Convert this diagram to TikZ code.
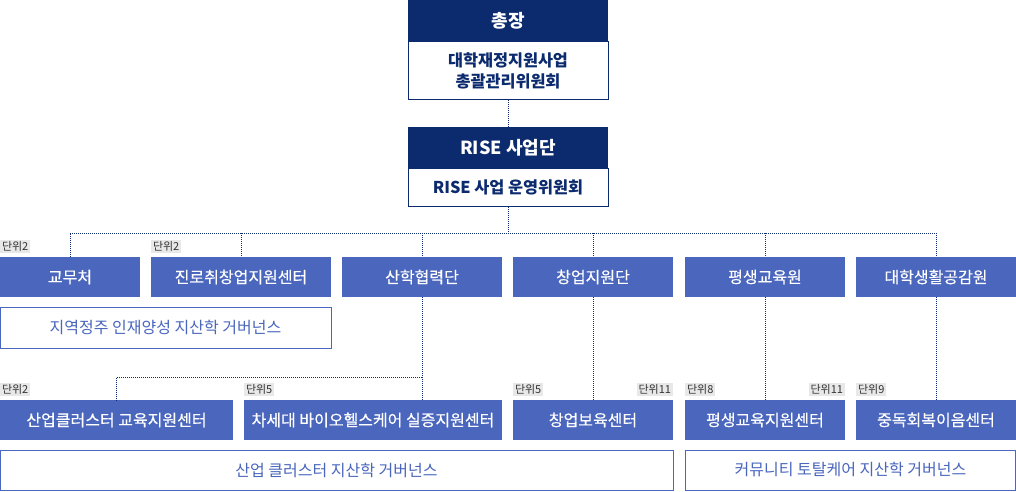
\documentclass[tikz,border=0pt]{standalone}
\usepackage{fontspec}
\setmainfont{Noto Sans CJK KR}
\newfontfamily\krmed{Noto Sans CJK KR}[FakeBold=0.4]
\usepackage{tikz}
\usetikzlibrary{positioning}
\definecolor{navy}{HTML}{0C2A6E}
\definecolor{unitblue}{HTML}{4A66BD}
\definecolor{taggray}{HTML}{E8E8E8}
\definecolor{tagtext}{HTML}{333333}

\tikzset{
	head/.style={fill=navy, text=white, font=\fontsize{18}{21}\selectfont\bfseries, minimum width=200pt, minimum height=41pt, inner sep=0pt},
	board/.style={draw=navy, line width=1pt, fill=white, text=navy, font=\fontsize{16.3}{21}\selectfont\bfseries, minimum width=200pt, inner sep=0pt, align=center},
	unit/.style={fill=unitblue, text=white, font=\fontsize{16}{19}\krmed, minimum height=40pt, inner sep=0pt},
	gov/.style={draw=unitblue, line width=1pt, fill=white, text=unitblue, font=\fontsize{16}{19}\selectfont, minimum height=40pt, inner sep=0pt},
	tag/.style={fill=taggray, text=tagtext, font=\fontsize{11}{12}\selectfont, minimum height=13pt, inner xsep=2pt, inner ysep=0pt, yshift=4pt},
	link/.style={draw=navy, line width=1pt, dash pattern=on 1pt off 1pt}
}

\begin{document}
\begin{tikzpicture}[x=1pt, y=-1pt]
				\useasboundingbox (0,0) rectangle (1016,491);
				% top of the chart
				\node[head] (chongjang) at (508,20.5) {총장};
				\node[board, minimum height=58pt, below=0pt of chongjang] (chongcom) {대학재정지원사업\\총괄관리위원회};
				\node[head] (rise) at (508,147.5) {RISE 사업단};
				\node[board, minimum height=38pt, below=0pt of rise] (risecom) {RISE 사업 운영위원회};
				\draw[link] (chongcom.south) -- (rise.north);

				% first row
				\node[unit, minimum width=140pt] (gyomu) at (70,277) {교무처};
				\node[unit, minimum width=180pt] (jinro) at (241,277) {진로취창업지원센터};
				\node[unit, minimum width=160pt] (sanhak) at (422,277) {산학협력단};
				\node[unit, minimum width=160pt] (changeop) at (593,277) {창업지원단};
				\node[unit, minimum width=160pt] (lifelong) at (765,277) {평생교육원};
				\node[unit, minimum width=160pt] (daesaeng) at (936,277) {대학생활공감원};
				\node[gov, minimum width=331pt, minimum height=41pt] (regional) at (165.5,327.5) {지역정주 인재양성 지산학 거버넌스};

				% second row
				\node[unit, minimum width=233pt] (cluster) at (116.5,420) {산업클러스터 교육지원센터};
				\node[unit, minimum width=258pt] (bio) at (373,420) {차세대 바이오헬스케어 실증지원센터};
				\node[unit, minimum width=160pt] (boyuk) at (593,420) {창업보육센터};
				\node[unit, minimum width=160pt] (lifectr) at (765,420) {평생교육지원센터};
				\node[unit, minimum width=160pt] (addict) at (936,420) {중독회복이음센터};
				\node[gov, minimum width=673pt] (industry) at (336.5,470) {산업 클러스터 지산학 거버넌스};
				\node[gov, minimum width=330pt] (community) at (850.5,470) {커뮤니티 토탈케어 지산학 거버넌스};

				\foreach \n/\t in {gyomu/2, jinro/2, cluster/2, bio/5, boyuk/5, lifectr/8, addict/9}
					\node[tag, anchor=south west] (tag-\n) at (\n.north west) {단위\t};
				\foreach \n in {boyuk, lifectr}
					\node[tag, anchor=south east] (tagr-\n) at (\n.north east) {단위11};

				% connectors
				\coordinate (bus) at (508,233);
				\coordinate (split) at (422,377);
				\draw[link] (risecom.south) -- (bus);
				\draw[link] (gyomu.north) |- (bus) -| (daesaeng.north);
				\foreach \n in {jinro, sanhak, changeop, lifelong}
					\draw[link] (bus -| \n.north) -- (\n.north);
				\draw[link] (sanhak.south) -- (sanhak.south |- bio.north);
				\draw[link] (split) -| (cluster.north);
				\foreach \a/\b in {changeop/boyuk, lifelong/lifectr, daesaeng/addict}
					\draw[link] (\a.south) -- (\b.north);
\end{tikzpicture}
\end{document}
